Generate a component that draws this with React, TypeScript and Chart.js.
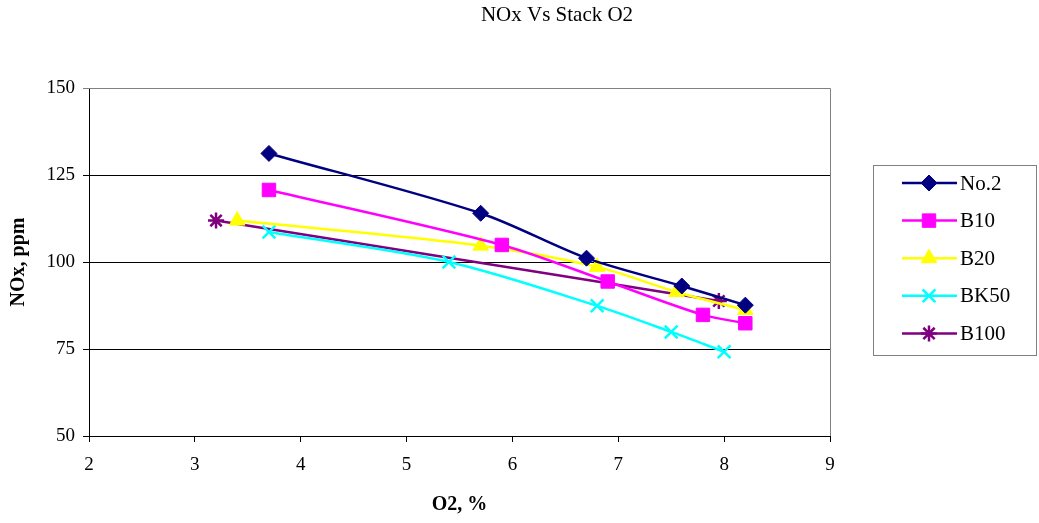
import React, { useEffect, useRef } from 'react';
import { Chart, registerables } from 'chart.js';
import { drawPoint } from 'chart.js/helpers';

Chart.register(...registerables);

const chartTitle = 'NOx Vs Stack O2';
const seriesNames = ['No.2', 'B10', 'B20', 'BK50', 'B100'];

const no2X = [3.7, 5.7, 6.7, 7.6, 8.2];
const no2Y = [131.2, 114.0, 101.1, 93.1, 87.6];

const b10X = [3.7, 5.9, 6.9, 7.8, 8.2];
const b10Y = [120.7, 104.9, 94.4, 84.8, 82.4];

const b20X = [3.4, 5.7, 6.8, 7.55, 8.2];
const b20Y = [111.9, 104.7, 98.6, 91.4, 86.2];

const bk50X = [3.7, 5.4, 6.8, 7.5, 8.0];
const bk50Y = [108.6, 100.0, 87.4, 79.9, 74.2];

const b100X = [3.2, 7.95];
const b100Y = [111.9, 88.8];

const xTicks = [2, 3, 4, 5, 6, 7, 8, 9];
const yTicks = [50, 75, 100, 125, 150];

const colors = ['#000080', '#FF00FF', '#FFFF00', '#00FFFF', '#800080'];
const pointStyles = ['rectRot', 'rect', 'triangle', 'crossRot', 'star'];
const pointRadii = [8, 9.5, 9, 9, 8];
const pointBorders = [1, 1, 1, 2.5, 2.5];

const toPts = (xs: number[], ys: number[]) => xs.map((x, i) => ({ x, y: ys[i] }));

const SERIF = "'Liberation Serif', 'Times New Roman', serif";

const frameAndLegend = {
  id: 'frameAndLegend',
  beforeDatasetsDraw(chart: any) {
    const { ctx, chartArea } = chart;
    ctx.save();
    ctx.strokeStyle = '#808080';
    ctx.lineWidth = 1;
    ctx.beginPath();
    ctx.moveTo(chartArea.left, chartArea.top + 0.5);
    ctx.lineTo(chartArea.right + 0.5, chartArea.top + 0.5);
    ctx.lineTo(chartArea.right + 0.5, chartArea.bottom);
    ctx.stroke();
    ctx.restore();
  },
  afterDraw(chart: any) {
    const { ctx } = chart;
    ctx.save();
    ctx.fillStyle = '#000';
    ctx.font = `21px ${SERIF}`;
    ctx.textAlign = 'center';
    ctx.textBaseline = 'middle';
    ctx.fillText(chartTitle, 557, 15);

    ctx.strokeStyle = '#808080';
    ctx.lineWidth = 1;
    ctx.strokeRect(873.5, 165.5, 163, 190);
    chart.data.datasets.forEach((ds: any, i: number) => {
      const y = 183 + i * 37.6;
      ctx.strokeStyle = ds.borderColor;
      ctx.lineWidth = ds.borderWidth;
      ctx.beginPath();
      ctx.moveTo(902, y);
      ctx.lineTo(957, y);
      ctx.stroke();
      ctx.fillStyle = ds.pointBackgroundColor;
      ctx.strokeStyle = ds.pointBorderColor;
      ctx.lineWidth = ds.pointBorderWidth;
      drawPoint(ctx, { pointStyle: ds.pointStyle, radius: ds.pointRadius, borderWidth: ds.pointBorderWidth, rotation: 0 } as any, 929, y);
      ctx.fillStyle = '#000';
      ctx.font = `21px ${SERIF}`;
      ctx.textBaseline = 'middle';
      ctx.textAlign = 'left';
      ctx.fillText(seriesNames[i], 960, y + 1);
    });
    ctx.restore();
  },
};

export default function App() {
  const ref = useRef<HTMLCanvasElement>(null);
  useEffect(() => {
    if (!ref.current) return;
    const seriesX = [no2X, b10X, b20X, bk50X, b100X];
    const seriesY = [no2Y, b10Y, b20Y, bk50Y, b100Y];
    const chart = new Chart(ref.current, {
      type: 'line',
      data: {
        datasets: seriesNames.map((name, i) => ({
          label: name,
          data: toPts(seriesX[i], seriesY[i]),
          borderColor: colors[i],
          backgroundColor: colors[i],
          borderWidth: 2.5,
          tension: 0.3,
          pointStyle: pointStyles[i] as any,
          pointRadius: pointRadii[i],
          pointHoverRadius: pointRadii[i],
          pointBackgroundColor: colors[i],
          pointBorderColor: colors[i],
          pointBorderWidth: pointBorders[i],
          fill: false,
        })),
      },
      options: {
        animation: false,
        responsive: false,
        maintainAspectRatio: false,
        events: [],
        layout: { padding: { left: 0, right: 209, top: 88, bottom: 0 } },
        plugins: {
          legend: { display: false },
          tooltip: { enabled: false },
          title: { display: false },
        },
        scales: {
          x: {
            type: 'linear',
            min: 2,
            max: 9,
            afterFit: (s: any) => { s.height = 87; },
            afterBuildTicks: (s: any) => { s.ticks = xTicks.map((v) => ({ value: v })); },
            ticks: { color: '#000', font: { family: SERIF, size: 19 }, padding: 12, stepSize: 1 },
            grid: { drawOnChartArea: false, drawTicks: true, tickLength: 6, color: '#000' },
            border: { color: '#000', width: 1 },
            title: {
              display: true,
              text: 'O2, %',
              color: '#000',
              font: { family: SERIF, size: 20, weight: 'bold' },
              padding: { top: 0, bottom: 6 },
            },
          },
          y: {
            type: 'linear',
            min: 50,
            max: 150,
            afterFit: (s: any) => { s.width = 89; },
            afterBuildTicks: (s: any) => { s.ticks = yTicks.map((v) => ({ value: v })); },
            ticks: { color: '#000', font: { family: SERIF, size: 19 }, padding: 8, stepSize: 25 },
            grid: {
              drawTicks: true,
              tickLength: 6,
              color: (c: any) => (c.tick && c.tick.value === 150 ? '#808080' : '#000'),
            },
            border: { color: '#000', width: 1 },
            title: {
              display: true,
              text: 'NOx, ppm',
              color: '#000',
              font: { family: SERIF, size: 20, weight: 'bold' },
              padding: { top: 7, bottom: 0 },
            },
          },
        },
      },
      plugins: [frameAndLegend],
    });
    return () => chart.destroy();
  }, []);
  return (
    <div style={{ position: 'absolute', left: 0, top: 0, width: 1039, height: 523, background: '#fff' }}>
      <canvas ref={ref} width={1039} height={523} />
    </div>
  );
}
